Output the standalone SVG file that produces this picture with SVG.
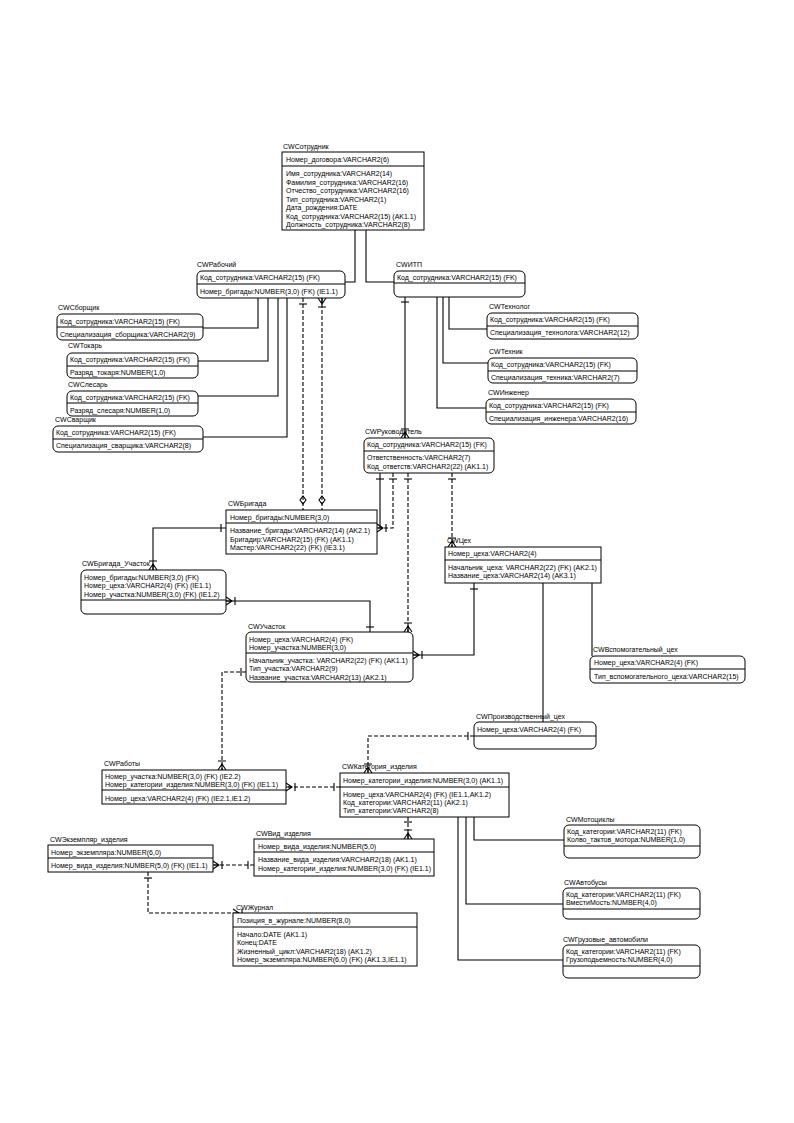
<svg xmlns="http://www.w3.org/2000/svg" width="794" height="1123" viewBox="0 0 794 1123">
<style>
.bg{fill:#fff}
.b{fill:#fff;stroke:#000;stroke-width:1}
.dv{stroke:#000;stroke-width:1}
.t{font-family:"Liberation Sans",Arial,sans-serif;font-size:7px;fill:#000}
.c{fill:none;stroke:#000;stroke-width:1.1}
.d{stroke-dasharray:4,2}
.m{fill:none;stroke:#000;stroke-width:1.1}
</style>
<defs>
<g id="bar"><path class="m" d="M-4,0H4"/></g>
<g id="cf"><path class="m" d="M-4,0L0,-6L4,0M0,-6V0M-4,-9H4"/></g>
<g id="dm"><path class="m" d="M0,-4L3,0L0,4L-3,0Z"/></g>
</defs>
<rect class="bg" x="0" y="0" width="794" height="1123"/>

<g id="connectors">
<path class="c" d="M355,230V282H345"/>
<path class="c" d="M366,230V282H394"/>
<path class="c" d="M258,298V328H203"/>
<path class="c" d="M268,298V361H198"/>
<path class="c" d="M278,298V396H198"/>
<path class="c" d="M287,298V437H203"/>
<path class="c" d="M449,297V329H487"/>
<path class="c" d="M443,297V363H488"/>
<path class="c" d="M437,297V408H486"/>
<path class="c" d="M405,297V438"/>
<use href="#bar" transform="translate(405,302)"/>
<use href="#cf" transform="translate(405,438)"/>
<path class="c d" d="M303,298V510"/>
<use href="#bar" transform="translate(303,304)"/>
<use href="#dm" transform="translate(303,500)"/>
<path class="c d" d="M322,298V510"/>
<use href="#cf" transform="translate(322,298) rotate(180)"/>
<use href="#dm" transform="translate(322,500)"/>
<path class="c d" d="M393,473V528H377"/>
<path class="c" d="M380,473V528"/>
<use href="#bar" transform="translate(393,479)"/>
<use href="#bar" transform="translate(380,479)"/>
<use href="#cf" transform="translate(377,528) rotate(90)"/>
<path class="c d" d="M408,473V632"/>
<use href="#bar" transform="translate(408,479)"/>
<use href="#cf" transform="translate(408,632)"/>
<path class="c d" d="M452,473V547"/>
<use href="#bar" transform="translate(452,479)"/>
<use href="#cf" transform="translate(452,547)"/>
<path class="c" d="M226,528H153V570"/>
<use href="#bar" transform="translate(221,528) rotate(90)"/>
<use href="#cf" transform="translate(153,570)"/>
<path class="c" d="M370,632V601H226"/>
<use href="#bar" transform="translate(370,627)"/>
<use href="#cf" transform="translate(226,601) rotate(90)"/>
<path class="c" d="M474,583V655H413"/>
<use href="#bar" transform="translate(474,589)"/>
<use href="#cf" transform="translate(413,655) rotate(90)"/>
<path class="c" d="M592,583V656"/>
<path class="c" d="M543,583V722"/>
<path class="c d" d="M474,736H368V773"/>
<use href="#bar" transform="translate(468,736) rotate(90)"/>
<use href="#cf" transform="translate(368,773)"/>
<path class="c d" d="M246,672H222V770"/>
<use href="#bar" transform="translate(241,672) rotate(90)"/>
<use href="#cf" transform="translate(222,770)"/>
<path class="c d" d="M340,787H286"/>
<use href="#bar" transform="translate(334,787) rotate(90)"/>
<use href="#cf" transform="translate(286,787) rotate(90)"/>
<path class="c d" d="M408,817V839"/>
<use href="#bar" transform="translate(408,822)"/>
<use href="#cf" transform="translate(408,839)"/>
<path class="c" d="M474,817V840H564"/>
<path class="c" d="M466,817V904H563"/>
<path class="c" d="M458,817V960H563"/>
<path class="c d" d="M254,865H213"/>
<use href="#bar" transform="translate(248,865) rotate(90)"/>
<use href="#cf" transform="translate(213,865) rotate(90)"/>
<path class="c d" d="M148,872V913H233"/>
<use href="#bar" transform="translate(148,878)"/>
<use href="#cf" transform="translate(233,913) rotate(90)"/>
</g>

<g id="sotrudnik">
<text class="t" x="283" y="149">CWСотрудник</text>
<rect class="b" x="282" y="152" width="142" height="78"/>
<line class="dv" x1="282" y1="166" x2="424" y2="166"/>
<text class="t" x="286" y="162">Номер_договора:VARCHAR2(6)</text>
<text class="t" x="286" y="176">Имя_сотрудника:VARCHAR2(14)</text>
<text class="t" x="286" y="184.5">Фамилия_сотрудника:VARCHAR2(16)</text>
<text class="t" x="286" y="193">Отчество_сотрудника:VARCHAR2(16)</text>
<text class="t" x="286" y="201.5">Тип_сотрудника:VARCHAR2(1)</text>
<text class="t" x="286" y="210">Дата_рождения:DATE</text>
<text class="t" x="286" y="218.5">Код_сотрудника:VARCHAR2(15) (AK1.1)</text>
<text class="t" x="286" y="227">Должность_сотрудника:VARCHAR2(8)</text>
</g>

<g id="rabochiy">
<text class="t" x="197" y="267">CWРабочий</text>
<rect class="b" x="197" y="271" width="148" height="27" rx="5"/>
<line class="dv" x1="197" y1="284" x2="345" y2="284"/>
<text class="t" x="200" y="280">Код_сотрудника:VARCHAR2(15) (FK)</text>
<text class="t" x="200" y="294">Номер_бригады:NUMBER(3,0) (FK) (IE1.1)</text>
</g>

<g id="itp">
<text class="t" x="396" y="267">CWИТП</text>
<rect class="b" x="394" y="271" width="131" height="26" rx="5"/>
<line class="dv" x1="394" y1="283" x2="525" y2="283"/>
<text class="t" x="397" y="280">Код_сотрудника:VARCHAR2(15) (FK)</text>
</g>

<g id="sborshik">
<text class="t" x="58" y="310">CWСборщик</text>
<rect class="b" x="57" y="314" width="146" height="26" rx="5"/>
<line class="dv" x1="57" y1="327" x2="203" y2="327"/>
<text class="t" x="60" y="323.5">Код_сотрудника:VARCHAR2(15) (FK)</text>
<text class="t" x="60" y="336.5">Специализация_сборщика:VARCHAR2(9)</text>
</g>

<g id="tokar">
<text class="t" x="68" y="348">CWТокарь</text>
<rect class="b" x="67" y="353" width="131" height="25" rx="5"/>
<line class="dv" x1="67" y1="366" x2="198" y2="366"/>
<text class="t" x="70" y="362">Код_сотрудника:VARCHAR2(15) (FK)</text>
<text class="t" x="70" y="375">Разряд_токаря:NUMBER(1,0)</text>
</g>

<g id="slesar">
<text class="t" x="68" y="387">CWСлесарь</text>
<rect class="b" x="67" y="391" width="131" height="25" rx="5"/>
<line class="dv" x1="67" y1="403" x2="198" y2="403"/>
<text class="t" x="70" y="399.5">Код_сотрудника:VARCHAR2(15) (FK)</text>
<text class="t" x="70" y="412.5">Разряд_слесаря:NUMBER(1,0)</text>
</g>

<g id="svarshik">
<text class="t" x="55" y="422">CWСварщик</text>
<rect class="b" x="53" y="426" width="150" height="26" rx="5"/>
<line class="dv" x1="53" y1="439" x2="203" y2="439"/>
<text class="t" x="56" y="435">Код_сотрудника:VARCHAR2(15) (FK)</text>
<text class="t" x="56" y="448">Специализация_сварщика:VARCHAR2(8)</text>
</g>

<g id="tehnolog">
<text class="t" x="489" y="309">CWТехнолог</text>
<rect class="b" x="487" y="313" width="151" height="26" rx="5"/>
<line class="dv" x1="487" y1="326" x2="638" y2="326"/>
<text class="t" x="490" y="322">Код_сотрудника:VARCHAR2(15) (FK)</text>
<text class="t" x="490" y="335">Специализация_технолога:VARCHAR2(12)</text>
</g>

<g id="tehnik">
<text class="t" x="489" y="354">CWТехник</text>
<rect class="b" x="488" y="358" width="149" height="25" rx="5"/>
<line class="dv" x1="488" y1="371" x2="637" y2="371"/>
<text class="t" x="491" y="366.5">Код_сотрудника:VARCHAR2(15) (FK)</text>
<text class="t" x="491" y="379.5">Специализация_техника:VARCHAR2(7)</text>
</g>

<g id="inzhener">
<text class="t" x="488" y="395">CWИнженер</text>
<rect class="b" x="486" y="399" width="150" height="25" rx="5"/>
<line class="dv" x1="486" y1="412" x2="636" y2="412"/>
<text class="t" x="489" y="407.5">Код_сотрудника:VARCHAR2(15) (FK)</text>
<text class="t" x="489" y="420.5">Специализация_инженера:VARCHAR2(16)</text>
</g>

<g id="rukovoditel">
<text class="t" x="365" y="434">CWРуководитель</text>
<rect class="b" x="364" y="438" width="130" height="35" rx="5"/>
<line class="dv" x1="364" y1="451" x2="494" y2="451"/>
<text class="t" x="367" y="447">Код_сотрудника:VARCHAR2(15) (FK)</text>
<text class="t" x="367" y="460">Ответственность:VARCHAR2(7)</text>
<text class="t" x="367" y="468.5">Код_ответств:VARCHAR2(22) (AK1.1)</text>
</g>

<g id="brigada">
<text class="t" x="228" y="506">CWБригада</text>
<rect class="b" x="226" y="510" width="151" height="44"/>
<line class="dv" x1="226" y1="523" x2="377" y2="523"/>
<text class="t" x="230" y="519.5">Номер_бригады:NUMBER(3,0)</text>
<text class="t" x="230" y="533">Название_бригады:VARCHAR2(14) (AK2.1)</text>
<text class="t" x="230" y="541.5">Бригадир:VARCHAR2(15) (FK) (AK1.1)</text>
<text class="t" x="230" y="550">Мастер:VARCHAR2(22) (FK) (IE3.1)</text>
</g>

<g id="brigada_uchastok">
<text class="t" x="82" y="566">CWБригада_Участок</text>
<rect class="b" x="81" y="570" width="145" height="44" rx="5"/>
<line class="dv" x1="81" y1="600" x2="226" y2="600"/>
<text class="t" x="84" y="579.5">Номер_бригады:NUMBER(3,0) (FK)</text>
<text class="t" x="84" y="588">Номер_цеха:VARCHAR2(4) (FK) (IE1.1)</text>
<text class="t" x="84" y="596.5">Номер_участка:NUMBER(3,0) (FK) (IE1.2)</text>
</g>

<g id="ceh">
<text class="t" x="447" y="543">CWЦех</text>
<rect class="b" x="445" y="547" width="156" height="36"/>
<line class="dv" x1="445" y1="560" x2="601" y2="560"/>
<text class="t" x="448" y="556">Номер_цеха:VARCHAR2(4)</text>
<text class="t" x="448" y="569.5">Начальник_цеха: VARCHAR2(22) (FK) (AK2.1)</text>
<text class="t" x="448" y="578">Название_цеха:VARCHAR2(14) (AK3.1)</text>
</g>

<g id="uchastok">
<text class="t" x="248" y="629">CWУчасток</text>
<rect class="b" x="246" y="632" width="167" height="50" rx="5"/>
<line class="dv" x1="246" y1="653" x2="413" y2="653"/>
<text class="t" x="249" y="641.5">Номер_цеха:VARCHAR2(4) (FK)</text>
<text class="t" x="249" y="650">Номер_участка:NUMBER(3,0)</text>
<text class="t" x="249" y="662.5">Начальник_участка: VARCHAR2(22) (FK) (AK1.1)</text>
<text class="t" x="249" y="671">Тип_участка:VARCHAR2(9)</text>
<text class="t" x="249" y="679.5">Название_участка:VARCHAR2(13) (AK2.1)</text>
</g>

<g id="vspomogatelniy">
<text class="t" x="593" y="652">CWВспомогательный_цех</text>
<rect class="b" x="590" y="656" width="155" height="27" rx="5"/>
<line class="dv" x1="590" y1="669" x2="745" y2="669"/>
<text class="t" x="594" y="665">Номер_цеха:VARCHAR2(4) (FK)</text>
<text class="t" x="594" y="678.5">Тип_вспомогательного_цеха:VARCHAR2(15)</text>
</g>

<g id="proizvodstvenniy">
<text class="t" x="476" y="719">CWПроизводственный_цех</text>
<rect class="b" x="474" y="722" width="122" height="27" rx="5"/>
<line class="dv" x1="474" y1="736" x2="596" y2="736"/>
<text class="t" x="477" y="731.5">Номер_цеха:VARCHAR2(4) (FK)</text>
</g>

<g id="raboty">
<text class="t" x="104" y="766">CWРаботы</text>
<rect class="b" x="102" y="770" width="184" height="34"/>
<line class="dv" x1="102" y1="790" x2="286" y2="790"/>
<text class="t" x="105" y="778.5">Номер_участка:NUMBER(3,0) (FK) (IE2.2)</text>
<text class="t" x="105" y="787">Номер_категории_изделия:NUMBER(3,0) (FK) (IE1.1)</text>
<text class="t" x="105" y="800.5">Номер_цеха:VARCHAR2(4) (FK) (IE2.1,IE1.2)</text>
</g>

<g id="kategoriya">
<text class="t" x="342" y="769">CWКатегория_изделия</text>
<rect class="b" x="340" y="773" width="169" height="44"/>
<line class="dv" x1="340" y1="787" x2="509" y2="787"/>
<text class="t" x="343" y="782.5">Номер_категории_изделия:NUMBER(3,0) (AK1.1)</text>
<text class="t" x="343" y="796.5">Номер_цеха:VARCHAR2(4) (FK) (IE1.1,AK1.2)</text>
<text class="t" x="343" y="805">Код_категории:VARCHAR2(11) (AK2.1)</text>
<text class="t" x="343" y="813">Тип_категории:VARCHAR2(8)</text>
</g>

<g id="mototsikly">
<text class="t" x="566" y="822">CWМотоциклы</text>
<rect class="b" x="564" y="825" width="136" height="33" rx="5"/>
<line class="dv" x1="564" y1="846" x2="700" y2="846"/>
<text class="t" x="567" y="833.5">Код_категории:VARCHAR2(11) (FK)</text>
<text class="t" x="567" y="842">Колво_тактов_мотора:NUMBER(1,0)</text>
</g>

<g id="avtobusy">
<text class="t" x="564" y="885">CWАвтобусы</text>
<rect class="b" x="563" y="888" width="137" height="31" rx="5"/>
<line class="dv" x1="563" y1="909" x2="700" y2="909"/>
<text class="t" x="566" y="896.5">Код_категории:VARCHAR2(11) (FK)</text>
<text class="t" x="566" y="905">ВместиМость:NUMBER(4,0)</text>
</g>

<g id="gruzovye">
<text class="t" x="563" y="942">CWГрузовые_автомобили</text>
<rect class="b" x="563" y="945" width="137" height="33" rx="5"/>
<line class="dv" x1="563" y1="966" x2="700" y2="966"/>
<text class="t" x="566" y="953.5">Код_категории:VARCHAR2(11) (FK)</text>
<text class="t" x="566" y="962">Грузоподьемность:NUMBER(4,0)</text>
</g>

<g id="ekzemplyar">
<text class="t" x="50" y="842">CWЭкземпляр_изделия</text>
<rect class="b" x="48" y="845" width="165" height="27"/>
<line class="dv" x1="48" y1="858" x2="213" y2="858"/>
<text class="t" x="51" y="854.5">Номер_экземпляра:NUMBER(6,0)</text>
<text class="t" x="51" y="867.5">Номер_вида_изделия:NUMBER(5,0) (FK) (IE1.1)</text>
</g>

<g id="vid">
<text class="t" x="256" y="836">CWВид_изделия</text>
<rect class="b" x="254" y="839" width="180" height="37"/>
<line class="dv" x1="254" y1="852" x2="434" y2="852"/>
<text class="t" x="258" y="848.5">Номер_вида_изделия:NUMBER(5,0)</text>
<text class="t" x="258" y="862">Название_вида_изделия:VARCHAR2(18) (AK1.1)</text>
<text class="t" x="258" y="870.5">Номер_категории_изделия:NUMBER(3,0) (FK) (IE1.1)</text>
</g>

<g id="zhurnal">
<text class="t" x="236" y="910">CWЖурнал</text>
<rect class="b" x="233" y="913" width="184" height="53"/>
<line class="dv" x1="233" y1="927" x2="417" y2="927"/>
<text class="t" x="237" y="922.5">Позиция_в_журнале:NUMBER(8,0)</text>
<text class="t" x="237" y="936.5">Начало:DATE (AK1.1)</text>
<text class="t" x="237" y="945">Конец:DATE</text>
<text class="t" x="237" y="953.5">Жизненный_цикл:VARCHAR2(18) (AK1.2)</text>
<text class="t" x="237" y="962">Номер_экземпляра:NUMBER(6,0) (FK) (AK1.3,IE1.1)</text>
</g>
</svg>
